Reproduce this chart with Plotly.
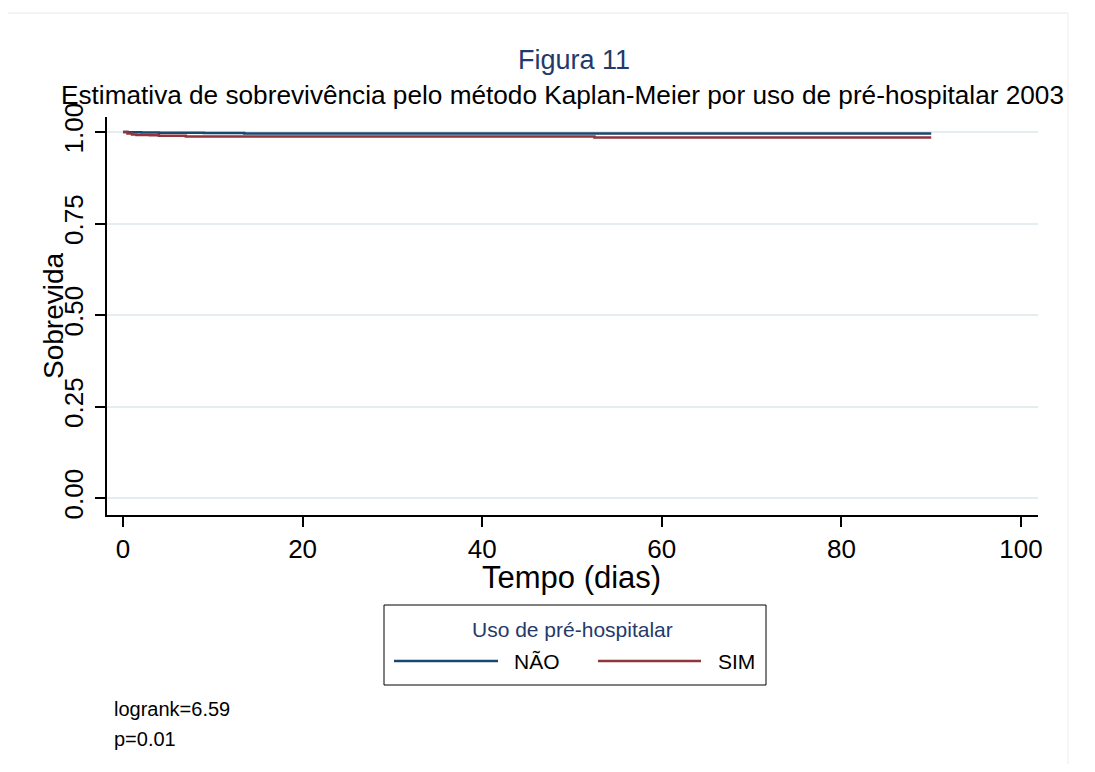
import plotly.graph_objects as go

# ---- data ----
nao_time = [0, 0.5, 1, 2, 4, 9, 13.5, 90]
nao_surv = [1.0, 0.9995, 0.999, 0.9985, 0.998, 0.9975, 0.996, 0.996]
sim_time = [0, 0.5, 1, 1.5, 3, 4, 7, 19, 52.5, 90]
sim_surv = [1.0, 0.996, 0.993, 0.992, 0.991, 0.990, 0.988, 0.9875, 0.985, 0.985]
group_names = ["NÃO", "SIM"]
y_ticks = [0, 0.25, 0.5, 0.75, 1.0]
y_tick_labels = ["0.00", "0.25", "0.50", "0.75", "1.00"]
x_ticks = [0, 20, 40, 60, 80, 100]
logrank_text = ["logrank=6.59", "p=0.01"]

BLUE = "#1a476f"
RED = "#90353b"
NAVY = "#1f3a6b"
FONT = "Liberation Sans, Arial, sans-serif"

OFF = 8                       # page body margin
W, H = 1095 - 2 * OFF, 772 - 2 * OFF
# plot area in page pixels
PL, PR, PT, PB = 107, 1038, 117, 515
L, R, T, B = PL - OFF, PR - OFF, PT - OFF, PB - OFF


def px(x):
    return (x - PL) / (PR - PL)


def py(y):
    return (PB - y) / (PB - PT)


fig = go.Figure()
fig.add_trace(go.Scatter(x=nao_time, y=nao_surv, mode="lines", line_shape="hv",
                         line=dict(color=BLUE, width=2.5), name=group_names[0],
                         showlegend=False))
fig.add_trace(go.Scatter(x=sim_time, y=sim_surv, mode="lines", line_shape="hv",
                         line=dict(color=RED, width=2.5), name=group_names[1],
                         showlegend=False))

shapes = []
annotations = []


def note(text, x, y, size, color="black", xanchor="center", angle=0):
    annotations.append(dict(text=text, xref="paper", yref="paper", x=px(x), y=py(y),
                            showarrow=False, xanchor=xanchor, yanchor="middle",
                            textangle=angle,
                            font=dict(family=FONT, size=size, color=color)))


# outer light frame
shapes.append(dict(type="line", xref="paper", yref="paper", x0=px(8), x1=px(1068),
                   y0=py(13), y1=py(13), line=dict(color="#e8e8e8", width=1)))
shapes.append(dict(type="line", xref="paper", yref="paper", x0=px(1068), x1=px(1068),
                   y0=py(13), y1=py(764), line=dict(color="#eeeeee", width=1)))

# titles
note("Figura 11", 574, 60, 27, NAVY)
note("Estimativa de sobrevivência pelo método Kaplan-Meier por uso de pré-hospitalar 2003",
     562, 95, 26.2)

# axis titles
note("Tempo (dias)", 571, 577, 31)
note("Sobrevida", 53, 316, 28, angle=-90)

# legend (manual)
shapes.append(dict(type="rect", xref="paper", yref="paper", x0=px(384), x1=px(766),
                   y0=py(685), y1=py(605), line=dict(color="black", width=1),
                   fillcolor="white"))
note("Uso de pré-hospitalar", 572, 629, 21, NAVY)
for (x0, x1, tx, col, name) in [(394, 498, 537, BLUE, group_names[0]),
                                (598, 701, 736, RED, group_names[1])]:
    shapes.append(dict(type="line", xref="paper", yref="paper", x0=px(x0), x1=px(x1),
                       y0=py(661), y1=py(661), line=dict(color=col, width=2.5)))
    note(name, tx, 661, 21)

# logrank texts
for i, t in enumerate(logrank_text):
    note(t, 112, 709 + 30 * i, 20, xanchor="left")

fig.update_layout(
    width=W, height=H,
    margin=dict(l=L, r=W - R, t=T, b=H - B, autoexpand=False),
    paper_bgcolor="white", plot_bgcolor="white",
    font=dict(family=FONT, color="black"),
    shapes=shapes, annotations=annotations,
    showlegend=False,
)
x0v = (PL - 123) / ((1021 - 123) / 100)
x1v = (PR - 123) / ((1021 - 123) / 100)
fig.update_xaxes(range=[x0v, x1v], tickvals=x_ticks, showgrid=False, zeroline=False,
                 showline=True, linecolor="black", linewidth=1.5,
                 ticks="outside", ticklen=10, tickcolor="black", tickwidth=1.5,
                 tickfont=dict(family=FONT, size=26, color="black"))
ppu = (498 - 132)
y0v = 0 - (PB - 498) / ppu
y1v = 1 + (132 - PT) / ppu
fig.update_yaxes(range=[y0v, y1v], tickvals=y_ticks, ticktext=y_tick_labels,
                 showgrid=True, gridcolor="#e4eef0", gridwidth=1.5, zeroline=False,
                 showline=True, linecolor="black", linewidth=1.5,
                 ticks="outside", ticklen=10, tickcolor="black", tickwidth=1.5,
                 tickangle=-90, ticklabelstandoff=2,
                 tickfont=dict(family=FONT, size=26, color="black"))

fig.write_html("out.html")
